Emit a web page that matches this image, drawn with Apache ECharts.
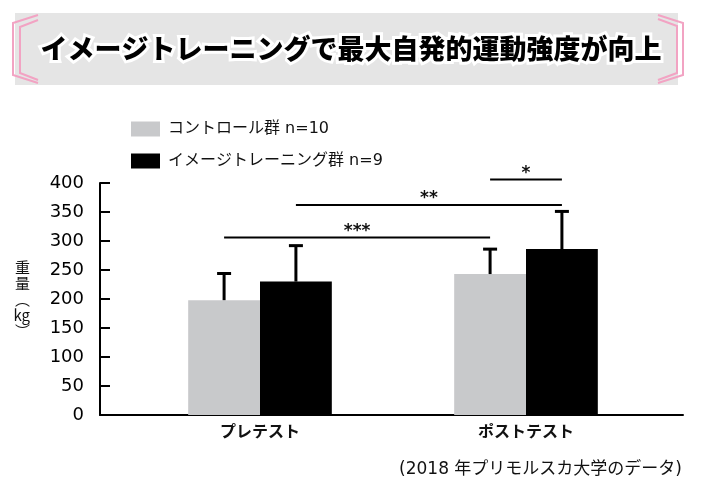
<!DOCTYPE html>
<html><head><meta charset="utf-8">
<script src="https://cdn.jsdelivr.net/npm/echarts@6/dist/echarts.min.js"></script>
<style>html,body{margin:0;padding:0;background:#fff}#c{width:719px;height:494px}</style>
</head><body><div id="c"></div>
<script>
const categories = ['プレテスト', 'ポストテスト'];
const seriesNames = ['コントロール群 n=10', 'イメージトレーニング群 n=9'];
const controlMean = [198, 243];
const controlSD = [46, 43];
const imageMean = [230, 286];
const imageSD = [62, 65];
const yMin = 0, yMax = 400, yInterval = 50;
const sigLabels = ['***', '**', '*'];
const sigY = [306, 362, 406];
const sigFromCat = [0, 0, 1], sigFromGroup = [0, 1, 0];
const sigToCat = [1, 1, 1], sigToGroup = [0, 1, 1];
const titleText = 'イメージトレーニングで最大自発的運動強度が向上';
const sourceText = '(2018 年プリモルスカ大学のデータ)';

const FONT = "'DejaVu Sans', 'Noto Sans CJK JP', sans-serif";
const JP = "'Noto Sans CJK JP', sans-serif";
const BAR_W = 0.27; // bar width in x-axis units
const colors = ['#c8c9cb', '#000000'];

function barX(cat, group) { return cat + 1 + (group === 0 ? -BAR_W / 2 : BAR_W / 2); }

function makeBarRender(group) {
  return function (params, api) {
    const xi = api.value(0), mean = api.value(1), sd = api.value(2);
    const base = api.coord([xi, 0]);
    const top = api.coord([xi, mean]);
    const et = api.coord([xi, mean + sd]);
    const bw = api.size([BAR_W, 0])[0];
    const x0 = group === 0 ? base[0] - bw : base[0];
    const cx = x0 + bw / 2;
    return {
      type: 'group', children: [
        { type: 'rect', shape: { x: x0, y: top[1], width: bw, height: base[1] - top[1] }, style: { fill: colors[group] } },
        { type: 'line', shape: { x1: cx, y1: top[1], x2: cx, y2: et[1] }, style: { stroke: '#000', lineWidth: 3 } },
        { type: 'line', shape: { x1: cx - 7, y1: et[1], x2: cx + 7, y2: et[1] }, style: { stroke: '#000', lineWidth: 3 } }
      ]
    };
  };
}

const controlData = categories.map((c, i) => [i + 1, controlMean[i], controlSD[i]]);
const imageData = categories.map((c, i) => [i + 1, imageMean[i], imageSD[i]]);
const sigData = sigLabels.map((l, i) => [barX(sigFromCat[i], sigFromGroup[i]), barX(sigToCat[i], sigToGroup[i]), sigY[i], i]);

const chart = echarts.init(document.getElementById('c'));
chart.setOption({
  animation: false,
  backgroundColor: '#fff',
  grid: { left: 100, right: 36, top: 183, bottom: 79 },
  legend: {
    orient: 'vertical', left: 131, top: 121, padding: 0, itemWidth: 29, itemHeight: 15, itemGap: 16,
    icon: 'rect',
    data: seriesNames,
    textStyle: { fontSize: 16, color: '#111', fontFamily: FONT, padding: [0, 0, 0, 3] }
  },
  xAxis: {
    type: 'value', min: 1 - 160 / 266, max: 2 + 157 / 266,
    axisLine: { lineStyle: { color: '#000', width: 2 } },
    axisTick: { show: false },
    splitLine: { show: false },
    axisLabel: {
      customValues: categories.map((c, i) => i + 1),
      formatter: v => categories[Math.round(v) - 1] || '',
      fontSize: 16, fontWeight: 'bold', color: '#111', fontFamily: JP, margin: 8
    }
  },
  yAxis: {
    type: 'value', min: yMin, max: yMax, interval: yInterval,
    name: '重\n量\n︵\nkg\n︶', nameLocation: 'middle', nameRotate: 0, nameGap: 70,
    nameTextStyle: { fontSize: 15, color: '#111', fontFamily: JP, lineHeight: 16, padding: [0, 0, 34, 0] },
    axisLine: { show: true, lineStyle: { color: '#000', width: 2 } },
    axisTick: { show: true, inside: true, length: 10, lineStyle: { color: '#000', width: 2 } },
    splitLine: { show: false },
    axisLabel: { fontSize: 18, color: '#000', fontFamily: FONT, margin: 16 }
  },
  series: [
    { name: seriesNames[0], type: 'custom', renderItem: makeBarRender(0), data: controlData, itemStyle: { color: colors[0] }, clip: false, encode: { x: 0, y: [1, 2] } },
    { name: seriesNames[1], type: 'custom', renderItem: makeBarRender(1), data: imageData, itemStyle: { color: colors[1] }, clip: false, encode: { x: 0, y: [1, 2] } },
    {
      name: 'sig', type: 'custom', clip: false, silent: true,
      data: sigData,
      encode: { x: [0, 1], y: 2 },
      renderItem: function (params, api) {
        const a = api.coord([api.value(0), api.value(2)]);
        const b = api.coord([api.value(1), api.value(2)]);
        const idx = api.value(3);
        return {
          type: 'group', children: [
            { type: 'line', shape: { x1: a[0], y1: a[1], x2: b[0], y2: b[1] }, style: { stroke: '#000', lineWidth: 2 } },
            { type: 'text', style: { x: (a[0] + b[0]) / 2, y: a[1] - 6, text: sigLabels[idx], fontSize: 17, fontWeight: 'bold', fontFamily: FONT, fill: '#111', align: 'center', verticalAlign: 'middle' } }
          ]
        };
      }
    }
  ],
  graphic: [
    { type: 'rect', z: -1, shape: { x: 15, y: 13, width: 663, height: 72 }, style: { fill: '#e5e5e5' } },
    { type: 'polyline', shape: { points: [[38, 15], [13, 23], [13, 75], [38, 83]] }, style: { stroke: '#f2a3c3', lineWidth: 2, fill: null } },
    { type: 'polyline', shape: { points: [[38, 20], [20, 27], [20, 73], [38, 80]] }, style: { stroke: '#f2a3c3', lineWidth: 2, fill: null } },
    { type: 'polyline', shape: { points: [[658, 15], [683, 23], [683, 75], [658, 83]] }, style: { stroke: '#f2a3c3', lineWidth: 2, fill: null } },
    { type: 'polyline', shape: { points: [[658, 19], [677, 26], [677, 73], [658, 80]] }, style: { stroke: '#f2a3c3', lineWidth: 2, fill: null } },
    { type: 'text', style: { x: 351, y: 49, text: titleText, fontSize: 27, fontWeight: 900, fontFamily: JP, fill: '#000', align: 'center', verticalAlign: 'middle', stroke: '#fff', lineWidth: 6 } },
    { type: 'text', style: { x: 682, y: 470, text: sourceText, fontSize: 17, fontFamily: FONT, fill: '#111', align: 'right', verticalAlign: 'middle' } }
  ]
});
</script></body></html>
